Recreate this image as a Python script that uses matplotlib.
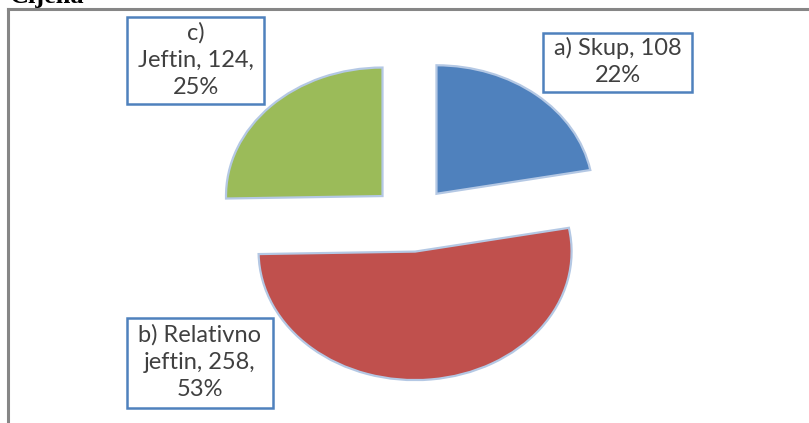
import matplotlib
matplotlib.use("Agg")
import matplotlib.pyplot as plt
from matplotlib.patches import Rectangle

title = "Cijena"
categories = ["a) Skup", "b) Relativno\njeftin", "c)\nJeftin"]
values = [108, 258, 124]
percents = ["22%", "53%", "25%"]
colors = ["#4F81BD", "#C0504D", "#9BBB59"]

W, H = 809, 423
fig = plt.figure(figsize=(W / 100, H / 100), dpi=100)
ax = fig.add_axes([0, 0, 1, 1])

wedges, _ = ax.pie(values, colors=colors, startangle=90, counterclock=False,
                   explode=[0.255] * 3,
                   wedgeprops=dict(edgecolor="#b4c8e4", linewidth=1.6))
ax.set_aspect("auto")
cx, cy, rx, ry = 411, 219, 156.5, 128.5
ax.set_xlim(-cx / rx, (W - cx) / rx)
ax.set_ylim((cy - H) / ry, cy / ry)
ax.axis("off")

def px(x, y):
    return x / W, 1 - y / H

# chart frame
fig.add_artist(plt.Line2D([8 / W, 8 / W], [1 - 9.5 / H, 0], color="#868686", lw=2.2,
                          transform=fig.transFigure))
fig.add_artist(plt.Line2D([8 / W, 1], [1 - 9.5 / H, 1 - 9.5 / H], color="#868686", lw=2.2,
                          transform=fig.transFigure))

# title (cut off at top, as in the reference)
fig.text(10 / W, 1 - 3 / H, title, fontsize=19, fontweight="bold",
         family="Liberation Serif", ha="left", va="baseline", color="black")

labels = [
    f"{categories[0]}, {values[0]}\n{percents[0]}",
    f"{categories[1]}, {values[1]},\n{percents[1]}",
    "c)\nJeftin, " + f"{values[2]},\n{percents[2]}",
]
# label boxes: (left, top, right, bottom) in pixels
boxes = [(543, 33, 692, 92), (127, 318, 273, 408), (127, 17, 264, 104)]
for lab, (l, t, r, b) in zip(labels, boxes):
    x0, y1 = px(l, t)
    x1, y0 = px(r, b)
    fig.add_artist(Rectangle((x0, y0), x1 - x0, y1 - y0, transform=fig.transFigure,
                             facecolor="white", edgecolor="#4F81BD", lw=1.8))
    fig.text((x0 + x1) / 2, (y0 + y1) / 2 + 0.002, lab, ha="center", va="center",
             multialignment="center", fontsize=17, family="Lato", color="#404040",
             linespacing=1.36)

fig.savefig("out.png", dpi=100)
